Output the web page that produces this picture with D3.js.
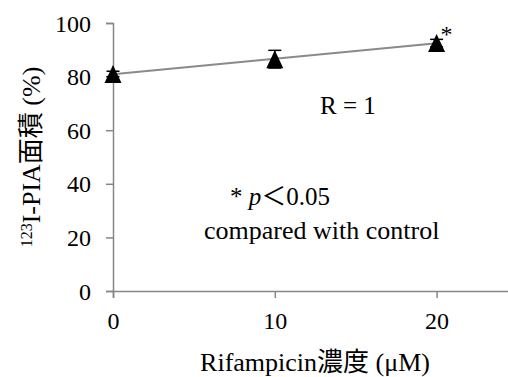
<!DOCTYPE html>
<html><head><meta charset="utf-8">
<script src="https://cdn.jsdelivr.net/npm/d3@7"></script>
<style>
html,body{margin:0;padding:0;background:#fff;}
svg{display:block;}
</style></head>
<body>
<svg id="chart" width="508" height="377"></svg>
<script>
const concentrations = [0, 10, 20];
const areaPercent = [81, 86.5, 92.5];
const errorSD = [1, 3.3, 1.4];
const xTicks = [0, 10, 20];
const yTicks = [0, 20, 40, 60, 80, 100];
const significant = [false, false, true];

const FONT = '"Liberation Serif", "Noto Sans CJK JP"';
const svg = d3.select("#chart");
const x = d3.scaleLinear().domain([0, 25]).range([113, 517.5]);
const y = d3.scaleLinear().domain([0, 100]).range([291, 23]);
const axisColor = "#868686";

// y axis
const ya = svg.append("g").attr("transform", `translate(${x(0)},0)`)
  .call(d3.axisLeft(y).tickValues(yTicks).tickSize(7).tickPadding(15).tickFormat(d3.format("d")));
ya.select(".domain").attr("stroke", axisColor).attr("stroke-width", 1.5);
ya.selectAll(".tick line").attr("stroke", axisColor).attr("stroke-width", 1.5);
ya.selectAll(".tick text").style("font-family", FONT).style("font-size", "24px").attr("fill", "#000").attr("dy", "0.34em");

// x axis
const xa = svg.append("g").attr("transform", `translate(0,${y(0)})`)
  .call(d3.axisBottom(x).tickValues(xTicks).tickSize(7).tickPadding(14).tickFormat(d3.format("d")));
xa.select(".domain").attr("stroke", axisColor).attr("stroke-width", 1.5);
xa.selectAll(".tick line").attr("stroke", axisColor).attr("stroke-width", 1.5);
xa.selectAll(".tick text").style("font-family", FONT).style("font-size", "24px").attr("fill", "#000").attr("dy", "0.71em");

// linear trendline (least squares from data)
const mx = d3.mean(concentrations), my = d3.mean(areaPercent);
const slope = d3.sum(concentrations.map((c, i) => (c - mx) * (areaPercent[i] - my))) /
              d3.sum(concentrations.map(c => (c - mx) ** 2));
const icpt = my - slope * mx;
const ext = d3.extent(concentrations);
svg.append("line")
  .attr("x1", x(ext[0])).attr("y1", y(icpt + slope * ext[0]))
  .attr("x2", x(ext[1])).attr("y2", y(icpt + slope * ext[1]))
  .attr("stroke", "#8a8a8a").attr("stroke-width", 2);

// error bars
const eb = svg.append("g");
concentrations.forEach((c, i) => {
  eb.append("line").attr("x1", x(c)).attr("x2", x(c))
    .attr("y1", y(areaPercent[i] - errorSD[i])).attr("y2", y(areaPercent[i] + errorSD[i]))
    .attr("stroke", "#000").attr("stroke-width", 1.5);
  [-1, 1].forEach(s => {
    eb.append("line").attr("x1", x(c) - 6.5).attr("x2", x(c) + 6.5)
      .attr("y1", y(areaPercent[i] + s * errorSD[i])).attr("y2", y(areaPercent[i] + s * errorSD[i]))
      .attr("stroke", "#000").attr("stroke-width", 1.5);
  });
});

// triangle markers
svg.append("g").selectAll("path").data(concentrations).join("path")
  .attr("d", (c, i) => {
    const cx = x(c), cy = y(areaPercent[i]);
    return `M${cx},${cy - 9}L${cx + 8.5},${cy + 9}L${cx - 8.5},${cy + 9}Z`;
  })
  .attr("fill", "#000");

function txt(sel, size) { return sel.style("font-family", FONT).style("font-size", size + "px").attr("fill", "#000"); }

// significance asterisks
concentrations.forEach((c, i) => {
  if (significant[i]) txt(svg.append("text"), 24).attr("x", x(c) + 4).attr("y", y(areaPercent[i]) - 1.5).text("*");
});

// annotations
txt(svg.append("text"), 25).attr("x", 320).attr("y", 114).text("R = 1");
const pt = txt(svg.append("text"), 25).attr("x", 230).attr("y", 205);
pt.append("tspan").text("* ");
pt.append("tspan").style("font-style", "italic").text("p");
pt.append("tspan").text("＜");
pt.append("tspan").text("0.05");
txt(svg.append("text"), 26).attr("x", 204).attr("y", 239).text("compared with control");

// axis titles
txt(svg.append("text"), 26).attr("x", 315).attr("y", 371).attr("text-anchor", "middle")
  .text("Rifampicin濃度 (μM)");
const yt = txt(svg.append("text"), 26).attr("transform", "translate(40,157) rotate(-90)")
  .attr("text-anchor", "middle");
yt.append("tspan").style("font-size", "16px").attr("dy", "-0.5em").text("123");
yt.append("tspan").attr("dy", "0.31em").text("I-PIA面積 (%)");
</script>
</body></html>
